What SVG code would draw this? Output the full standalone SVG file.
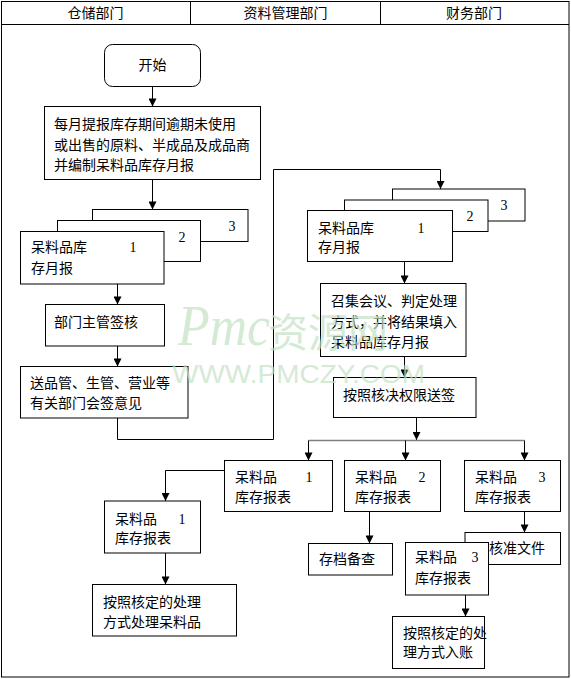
<svg xmlns="http://www.w3.org/2000/svg" width="571" height="679" viewBox="0 0 571 679">
<style>
.frame{fill:none;stroke:#000;stroke-width:1}
.box{fill:#fff;stroke:#000;stroke-width:1}
.t{font-family:"Noto Sans CJK SC","Noto Sans CJK JP",sans-serif;font-size:14px;fill:#000}
.h{font-family:"Noto Sans CJK SC","Noto Sans CJK JP",sans-serif;font-size:14px;fill:#000;text-anchor:middle}
.n{font-family:"Liberation Serif",serif;font-size:14px;fill:#000;text-anchor:middle}
.c{fill:none;stroke:#000;stroke-width:1}
.cg{fill:none;stroke:#808080;stroke-width:1.5}
.a{marker-end:url(#ah)}
.wm{fill:#c4e2c4;opacity:0.7}
</style>
<defs>
<marker id="ah" viewBox="0 0 10 10" refX="10" refY="5" markerWidth="9" markerHeight="8" markerUnits="userSpaceOnUse" orient="auto">
<path d="M0,0 L10,5 L0,10 z" fill="#000"/>
</marker>
</defs>
<rect width="571" height="679" fill="#fff"/>
<g id="frame">
<rect class="frame" x="1.5" y="1.5" width="567.5" height="675.5"/>
<line class="frame" x1="1.5" y1="24.5" x2="569" y2="24.5"/>
<line class="frame" x1="190.5" y1="1.5" x2="190.5" y2="24.5"/>
<line class="frame" x1="380.5" y1="1.5" x2="380.5" y2="24.5"/>
<text class="h" x="95.5" y="17.5">仓储部门</text>
<text class="h" x="285.5" y="17.5">资料管理部门</text>
<text class="h" x="474" y="17.5">财务部门</text>
</g>
<g id="connectors">
<line class="c a" x1="152.5" y1="86.5" x2="152.5" y2="106.5"/>
<line class="c a" x1="152.5" y1="179.5" x2="152.5" y2="209.5"/>
<line class="c a" x1="117.5" y1="284" x2="117.5" y2="304.5"/>
<line class="c a" x1="117.5" y1="346" x2="117.5" y2="366.5"/>
<polyline class="c a" points="117.5,418 117.5,439.5 273.5,439.5 273.5,169.5 440.5,169.5 440.5,189"/>
<line class="c a" x1="404.5" y1="261.5" x2="404.5" y2="283.5"/>
<line class="c a" x1="404.5" y1="356.5" x2="404.5" y2="377.5"/>
<line class="c a" x1="416.5" y1="417.5" x2="416.5" y2="440"/>
<line class="cg" x1="308.5" y1="440.5" x2="524.5" y2="440.5"/>
<line class="c a" x1="308.5" y1="440.5" x2="308.5" y2="460.5"/>
<line class="c a" x1="405.5" y1="440.5" x2="405.5" y2="460.5"/>
<line class="c a" x1="524.5" y1="440.5" x2="524.5" y2="460.5"/>
<polyline class="c a" points="224.5,470.5 165.5,470.5 165.5,501"/>
<line class="c a" x1="165.5" y1="553" x2="165.5" y2="584.5"/>
<line class="c a" x1="369.5" y1="511.5" x2="369.5" y2="543.5"/>
<line class="c a" x1="524.5" y1="511.5" x2="524.5" y2="532.5"/>
<line class="c a" x1="465.5" y1="595" x2="465.5" y2="616.5"/>
</g>
<g id="start">
<rect class="box" x="104.5" y="44.5" width="96" height="42" rx="8" ry="8"/>
<text class="h" x="152.5" y="70">开始</text>
</g>
<g id="monthly-report">
<rect class="box" x="44.5" y="106.5" width="216" height="73"/>
<text class="t" x="54" y="129">每月提报库存期间逾期未使用</text>
<text class="t" x="54" y="150">或出售的原料、半成品及成品商</text>
<text class="t" x="54" y="170">并编制呆料品库存月报</text>
</g>
<g id="report-stack-left">
<rect class="box" x="92.5" y="209.5" width="155.5" height="32"/>
<text class="n" x="232" y="231">3</text>
<rect class="box" x="57.5" y="220.5" width="143" height="41"/>
<text class="n" x="182" y="242">2</text>
<rect class="box" x="20.5" y="231.5" width="143.5" height="52.5"/>
<text class="n" x="133" y="252">1</text>
<text class="t" x="31" y="252">呆料品库</text>
<text class="t" x="31" y="273">存月报</text>
</g>
<g id="supervisor">
<rect class="box" x="45.5" y="304.5" width="119" height="41.5"/>
<text class="t" x="54" y="327">部门主管签核</text>
</g>
<g id="countersign">
<rect class="box" x="20.5" y="366.5" width="167.5" height="51.5"/>
<text class="t" x="30" y="388">送品管、生管、营业等</text>
<text class="t" x="30" y="408">有关部门会签意见</text>
</g>
<g id="report-stack-right">
<rect class="box" x="392.5" y="189" width="132.5" height="32"/>
<text class="n" x="504" y="210">3</text>
<rect class="box" x="344.5" y="200" width="143.5" height="31.5"/>
<text class="n" x="470" y="221">2</text>
<rect class="box" x="307.5" y="210.5" width="145" height="51"/>
<text class="n" x="421" y="233">1</text>
<text class="t" x="318" y="233">呆料品库</text>
<text class="t" x="318" y="252">存月报</text>
</g>
<g id="meeting">
<rect class="box" x="320.5" y="283.5" width="145.5" height="73"/>
<text class="t" x="331" y="306">召集会议、判定处理</text>
<text class="t" x="331" y="327">方式，并将结果填入</text>
<text class="t" x="331" y="347">呆料品库存月报</text>
</g>
<g id="approval">
<rect class="box" x="333.5" y="377.5" width="142.5" height="40"/>
<text class="t" x="343" y="400">按照核决权限送签</text>
</g>
<g id="table-1">
<rect class="box" x="224.5" y="460.5" width="108" height="51"/>
<text class="t" x="235" y="482">呆料品</text>
<text class="t" x="235" y="502">库存报表</text>
<text class="n" x="309" y="482">1</text>
</g>
<g id="table-2">
<rect class="box" x="344.5" y="460.5" width="96" height="51"/>
<text class="t" x="355" y="482">呆料品</text>
<text class="t" x="355" y="502">库存报表</text>
<text class="n" x="422" y="482">2</text>
</g>
<g id="table-3">
<rect class="box" x="464.5" y="460.5" width="96" height="51"/>
<text class="t" x="475" y="482">呆料品</text>
<text class="t" x="475" y="502">库存报表</text>
<text class="n" x="542" y="482">3</text>
</g>
<g id="table-1-warehouse">
<rect class="box" x="104.5" y="501" width="96" height="52"/>
<text class="t" x="115" y="524">呆料品</text>
<text class="t" x="115" y="543">库存报表</text>
<text class="n" x="182" y="524">1</text>
</g>
<g id="dispose">
<rect class="box" x="92.5" y="584.5" width="144" height="51.5"/>
<text class="t" x="103" y="607">按照核定的处理</text>
<text class="t" x="103" y="627">方式处理呆料品</text>
</g>
<g id="archive">
<rect class="box" x="308.5" y="543.5" width="84" height="31.5"/>
<text class="t" x="319" y="564">存档备查</text>
</g>
<g id="approved-file">
<rect class="box" x="465" y="532.5" width="95.5" height="32"/>
<text class="t" x="489" y="553">核准文件</text>
</g>
<g id="table-3-finance">
<rect class="box" x="405.5" y="542.5" width="83" height="52.5"/>
<text class="t" x="415" y="562">呆料品</text>
<text class="t" x="415" y="583">库存报表</text>
<text class="n" x="475" y="562">3</text>
</g>
<g id="post">
<rect class="box" x="392.5" y="616.5" width="92" height="52"/>
<text class="t" x="403" y="638">按照核定的处</text>
<text class="t" x="403" y="657">理方式入账</text>
</g>
<g id="watermark" class="wm">
<text x="178" y="345" font-family="Liberation Serif,serif" font-style="italic" font-size="58" textLength="92" lengthAdjust="spacingAndGlyphs">Pmc</text>
<text x="268" y="347" font-family="Noto Sans CJK SC,sans-serif" font-size="40">资源网</text>
<text x="172" y="383" font-family="Liberation Sans,sans-serif" font-size="25" textLength="253" lengthAdjust="spacingAndGlyphs">WWW.PMCZY.COM</text>
</g>
</svg>
